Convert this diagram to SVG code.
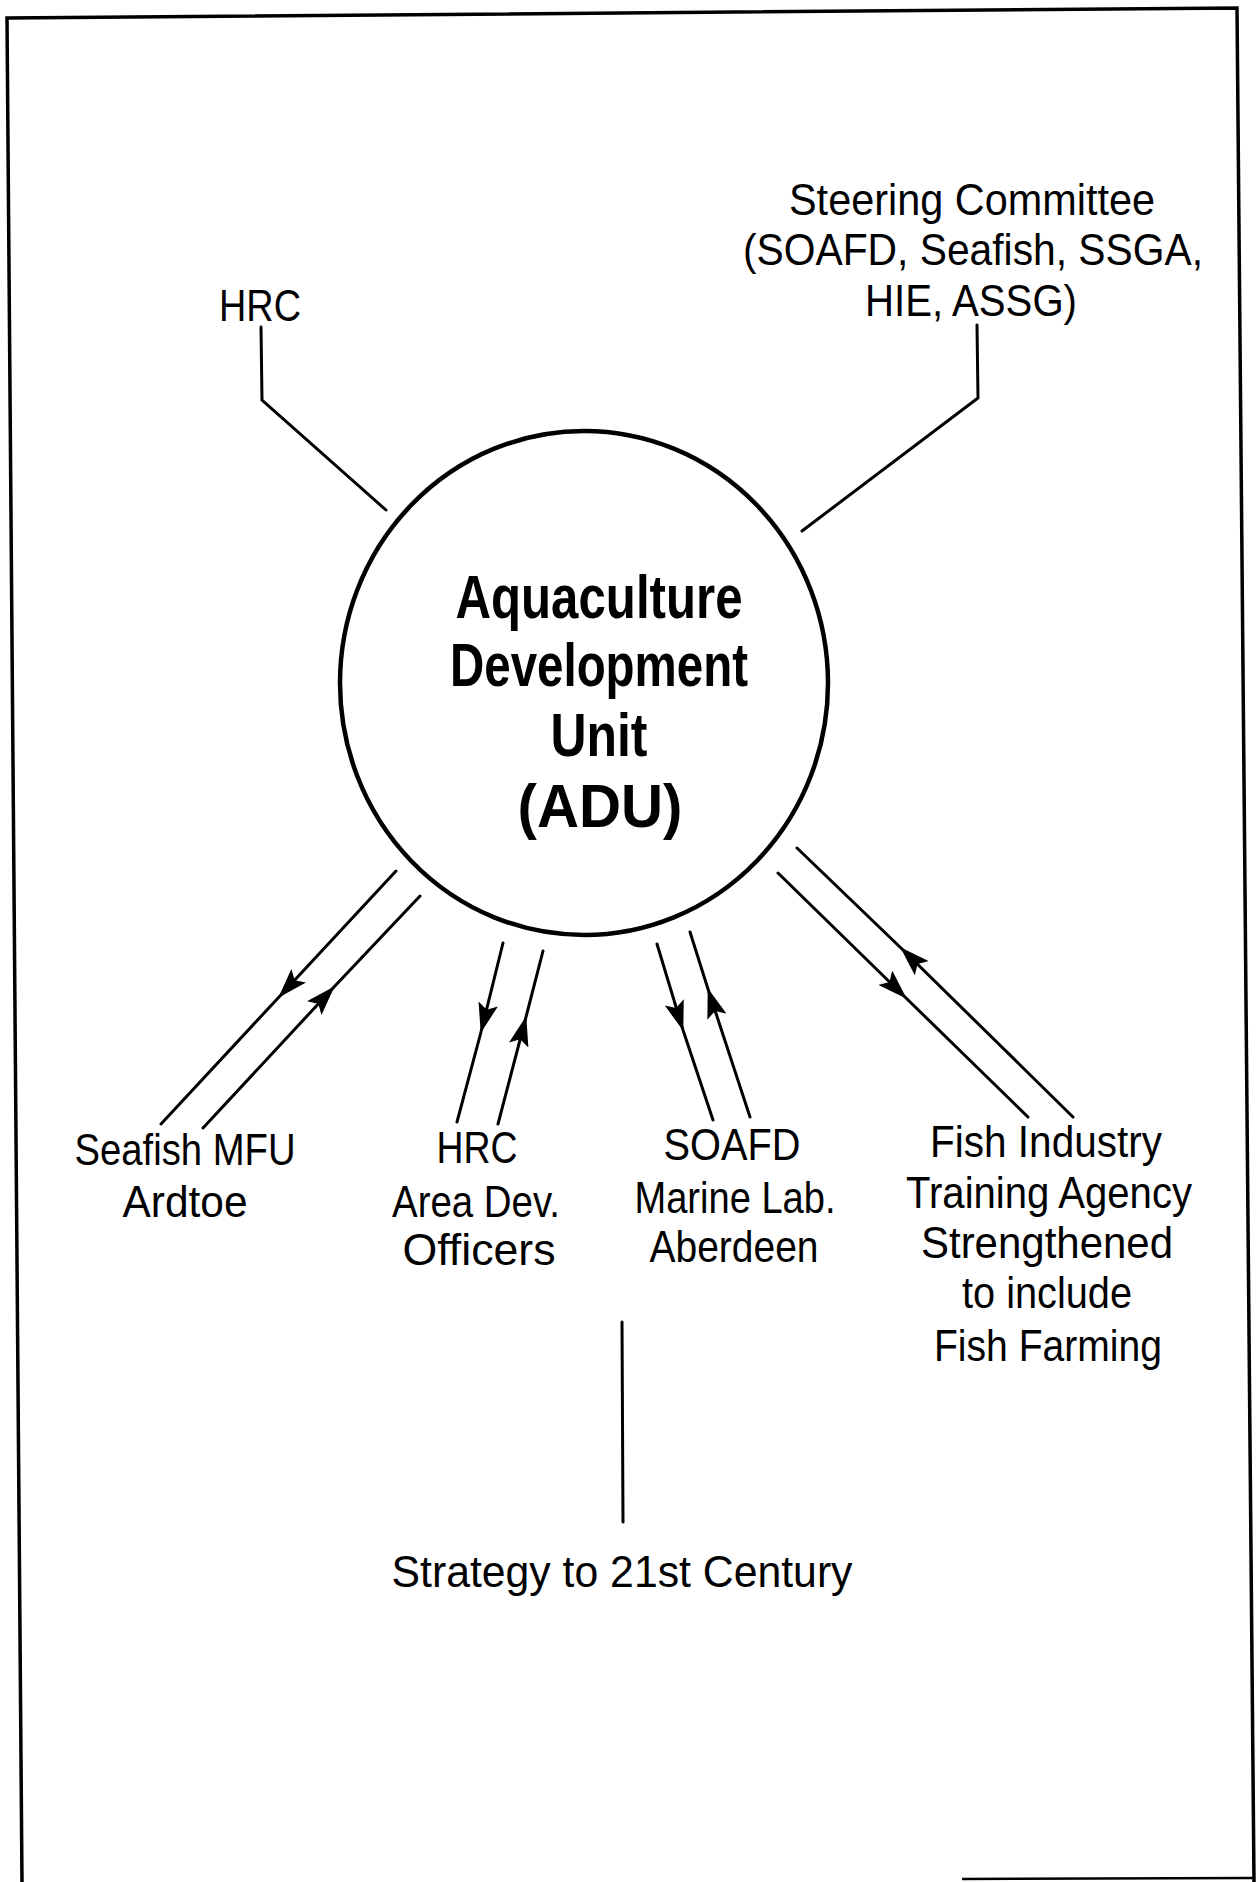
<svg xmlns="http://www.w3.org/2000/svg" width="1259" height="1882" viewBox="0 0 1259 1882">
<style>
.lbl{font-family:"Liberation Sans",Arial,Helvetica,sans-serif;font-size:45px;fill:#000;text-anchor:middle}
.ttl{font-family:"Liberation Sans",Arial,Helvetica,sans-serif;font-size:62px;font-weight:bold;fill:#000;text-anchor:middle}
.ln{fill:none;stroke:#000;stroke-width:3;stroke-linecap:round;stroke-linejoin:miter}
.ar{fill:none;stroke:#000;stroke-width:3;stroke-linecap:round;marker-mid:url(#arr)}
</style>
<defs>
<marker id="arr" viewBox="0 0 30 20" refX="29" refY="10" markerUnits="userSpaceOnUse" markerWidth="30" markerHeight="20" orient="auto">
<path d="M0,0 L30,10 L0,20 L6,10 Z" fill="#000"/>
</marker>
</defs>
<rect width="1259" height="1882" fill="#fff"/>
<g id="frame" fill="none" stroke="#000" stroke-width="3.5">
<path d="M22,1882 L7,18 L1237,8 L1254,1882"/>
<path d="M962,1879 L1254,1878" stroke-width="2.5"/>
</g>
<g id="adu">
<ellipse cx="584" cy="683" rx="244" ry="252" fill="none" stroke="#000" stroke-width="4.5"/>
<text class="ttl" x="599" y="618" textLength="287" lengthAdjust="spacingAndGlyphs">Aquaculture</text>
<text class="ttl" x="599" y="686" textLength="298" lengthAdjust="spacingAndGlyphs">Development</text>
<text class="ttl" x="599" y="756" textLength="97" lengthAdjust="spacingAndGlyphs">Unit</text>
<text class="ttl" x="600" y="827" textLength="165" lengthAdjust="spacingAndGlyphs">(ADU)</text>
</g>
<g id="hrc-top">
<text class="lbl" x="260" y="321" textLength="82" lengthAdjust="spacingAndGlyphs">HRC</text>
</g>
<g id="steering">
<text class="lbl" x="972" y="215" textLength="366" lengthAdjust="spacingAndGlyphs">Steering Committee</text>
<text class="lbl" x="973" y="265" textLength="460" lengthAdjust="spacingAndGlyphs">(SOAFD, Seafish, SSGA,</text>
<text class="lbl" x="971" y="316" textLength="212" lengthAdjust="spacingAndGlyphs">HIE, ASSG)</text>
</g>
<g id="seafish">
<text class="lbl" x="185" y="1165" textLength="221" lengthAdjust="spacingAndGlyphs">Seafish MFU</text>
<text class="lbl" x="185" y="1217" textLength="125" lengthAdjust="spacingAndGlyphs">Ardtoe</text>
</g>
<g id="hrc-area">
<text class="lbl" x="477" y="1163" textLength="81" lengthAdjust="spacingAndGlyphs">HRC</text>
<text class="lbl" x="476" y="1217" textLength="168" lengthAdjust="spacingAndGlyphs">Area Dev.</text>
<text class="lbl" x="479" y="1265" textLength="153" lengthAdjust="spacingAndGlyphs">Officers</text>
</g>
<g id="soafd">
<text class="lbl" x="732" y="1160" textLength="137" lengthAdjust="spacingAndGlyphs">SOAFD</text>
<text class="lbl" x="735" y="1213" textLength="201" lengthAdjust="spacingAndGlyphs">Marine Lab.</text>
<text class="lbl" x="734" y="1262" textLength="169" lengthAdjust="spacingAndGlyphs">Aberdeen</text>
</g>
<g id="fita">
<text class="lbl" x="1046" y="1157" textLength="232" lengthAdjust="spacingAndGlyphs">Fish Industry</text>
<text class="lbl" x="1049" y="1208" textLength="286" lengthAdjust="spacingAndGlyphs">Training Agency</text>
<text class="lbl" x="1047" y="1258" textLength="252" lengthAdjust="spacingAndGlyphs">Strengthened</text>
<text class="lbl" x="1047" y="1308" textLength="170" lengthAdjust="spacingAndGlyphs">to include</text>
<text class="lbl" x="1048" y="1361" textLength="228" lengthAdjust="spacingAndGlyphs">Fish Farming</text>
</g>
<g id="strategy">
<text class="lbl" x="622" y="1587" textLength="461" lengthAdjust="spacingAndGlyphs">Strategy to 21st Century</text>
</g>
<g id="connectors">
<polyline class="ln" points="261,327 262,400 386,510"/>
<polyline class="ln" points="977,325 978,398 802,531"/>
<polyline class="ar" points="396,871 279,997 161,1124"/>
<polyline class="ar" points="203,1128 334,987 420,896"/>
<polyline class="ar" points="503,943 481,1032 457,1122"/>
<polyline class="ar" points="498,1124 526,1017 543,951"/>
<polyline class="ar" points="657,944 683,1030 713,1120"/>
<polyline class="ar" points="750,1117 708,989 690,932"/>
<polyline class="ar" points="1073,1117 901,948 797,848"/>
<polyline class="ar" points="778,873 906,998 1028,1117"/>
<line class="ln" x1="622" y1="1322" x2="623" y2="1522"/>
</g>
</svg>
